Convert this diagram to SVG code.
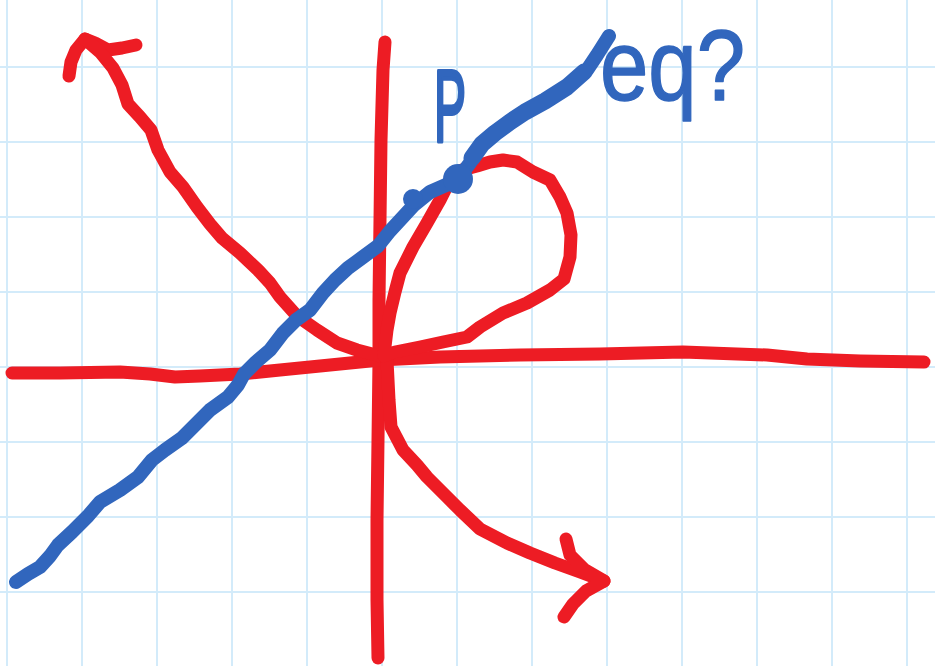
<svg xmlns="http://www.w3.org/2000/svg" width="935" height="666" viewBox="0 0 935 666">
<style>
.grid line{stroke:#d3ebfa;stroke-width:2}
.red{fill:none;stroke:#ed1c24;stroke-width:13;stroke-linecap:round;stroke-linejoin:round}
.blue{fill:none;stroke:#3166bd;stroke-width:14;stroke-linecap:round;stroke-linejoin:round}
.lbl{font-family:"Liberation Sans",Arial,sans-serif;fill:#3166bd;stroke:#3166bd;stroke-linejoin:round}
</style>
<rect width="935" height="666" fill="#ffffff"/>
<g id="grid" class="grid">
<line x1="7" y1="0" x2="7" y2="666"/><line x1="82" y1="0" x2="82" y2="666"/><line x1="157" y1="0" x2="157" y2="666"/><line x1="232" y1="0" x2="232" y2="666"/><line x1="307" y1="0" x2="307" y2="666"/><line x1="382" y1="0" x2="382" y2="666"/><line x1="457" y1="0" x2="457" y2="666"/><line x1="532" y1="0" x2="532" y2="666"/><line x1="607" y1="0" x2="607" y2="666"/><line x1="682" y1="0" x2="682" y2="666"/><line x1="757" y1="0" x2="757" y2="666"/><line x1="832" y1="0" x2="832" y2="666"/><line x1="907" y1="0" x2="907" y2="666"/>
<line x1="0" y1="67" x2="935" y2="67"/><line x1="0" y1="142" x2="935" y2="142"/><line x1="0" y1="217" x2="935" y2="217"/><line x1="0" y1="292" x2="935" y2="292"/><line x1="0" y1="367" x2="935" y2="367"/><line x1="0" y1="442" x2="935" y2="442"/><line x1="0" y1="517" x2="935" y2="517"/><line x1="0" y1="592" x2="935" y2="592"/>
</g>
<g id="axes">
<polyline class="red" points="385,42 383,70 381,140 380,220 379,300 379,360 378,440 377,520 377,600 378,658"/>
<polyline class="red" points="12,373 60,373 120,372 150,374 175,377 200,376 240,374 280,370 320,366 380,360 440,357 520,355 600,354 683,352 767,355 807,359 860,361 924,362"/>
</g>
<g id="curve">
<polyline class="red" points="69,76 71,62 76,50 85,39 95,43 108,50 122,48 136,45"/>
<polyline class="red" points="85,39 100,52 113,68 122,85 128,104 140,117 151,130 158,150 170,172 183,187 197,207 210,224 222,238 240,253 258,270 270,283 280,297 297,316 317,330 337,343 357,350 380,356"/>
<polyline class="red" points="387,360 389,400 391,427 403,450 417,465 427,477 447,497 460,510 480,529 507,543 530,553 555,563 580,572 604,581"/>
<polyline class="red" points="566,539 570,555 585,570 604,581 586,591 573,604 564,617"/>
<polyline class="red" points="384,355 387,330 390,313 395,292 400,273 413,247 427,223 440,200 450,180 462,170 477,166 490,162 503,160 517,162 533,172 550,180 560,197 567,213 571,235 570,257 564,279 550,290 527,303 503,313 480,327 467,337 443,342 420,347 395,352 384,356"/>
</g>
<g id="line">
<polyline class="blue" points="16,582 28,574 40,567 50,556 58,545 72,532 88,516 100,502 120,490 138,477 152,460 165,450 182,438 196,424 210,410 228,397 238,385 244,374 256,362 270,350 283,333 296,320 310,310 323,293 335,280 348,268 363,257 378,246 390,231 402,218 414,205 430,192 446,185 460,176 470,163 480,146 495,133 510,122 525,112 545,101 567,87 587,70 597,55 609,36"/>
<polyline class="blue" style="stroke-width:17" points="472,158 482,144 495,133 510,122 525,112 545,101 567,87 584,72"/>
<circle cx="413" cy="199" r="10" fill="#3166bd"/>
<circle cx="458" cy="179" r="15" fill="#3166bd"/>
</g>
<g id="labels">
<text class="lbl" x="434" y="141" font-size="102" stroke-width="4" textLength="32" lengthAdjust="spacingAndGlyphs">P</text>
<text class="lbl" x="600" y="100" font-size="100" stroke-width="1.5" textLength="145" lengthAdjust="spacingAndGlyphs">eq?</text>
</g>
</svg>
